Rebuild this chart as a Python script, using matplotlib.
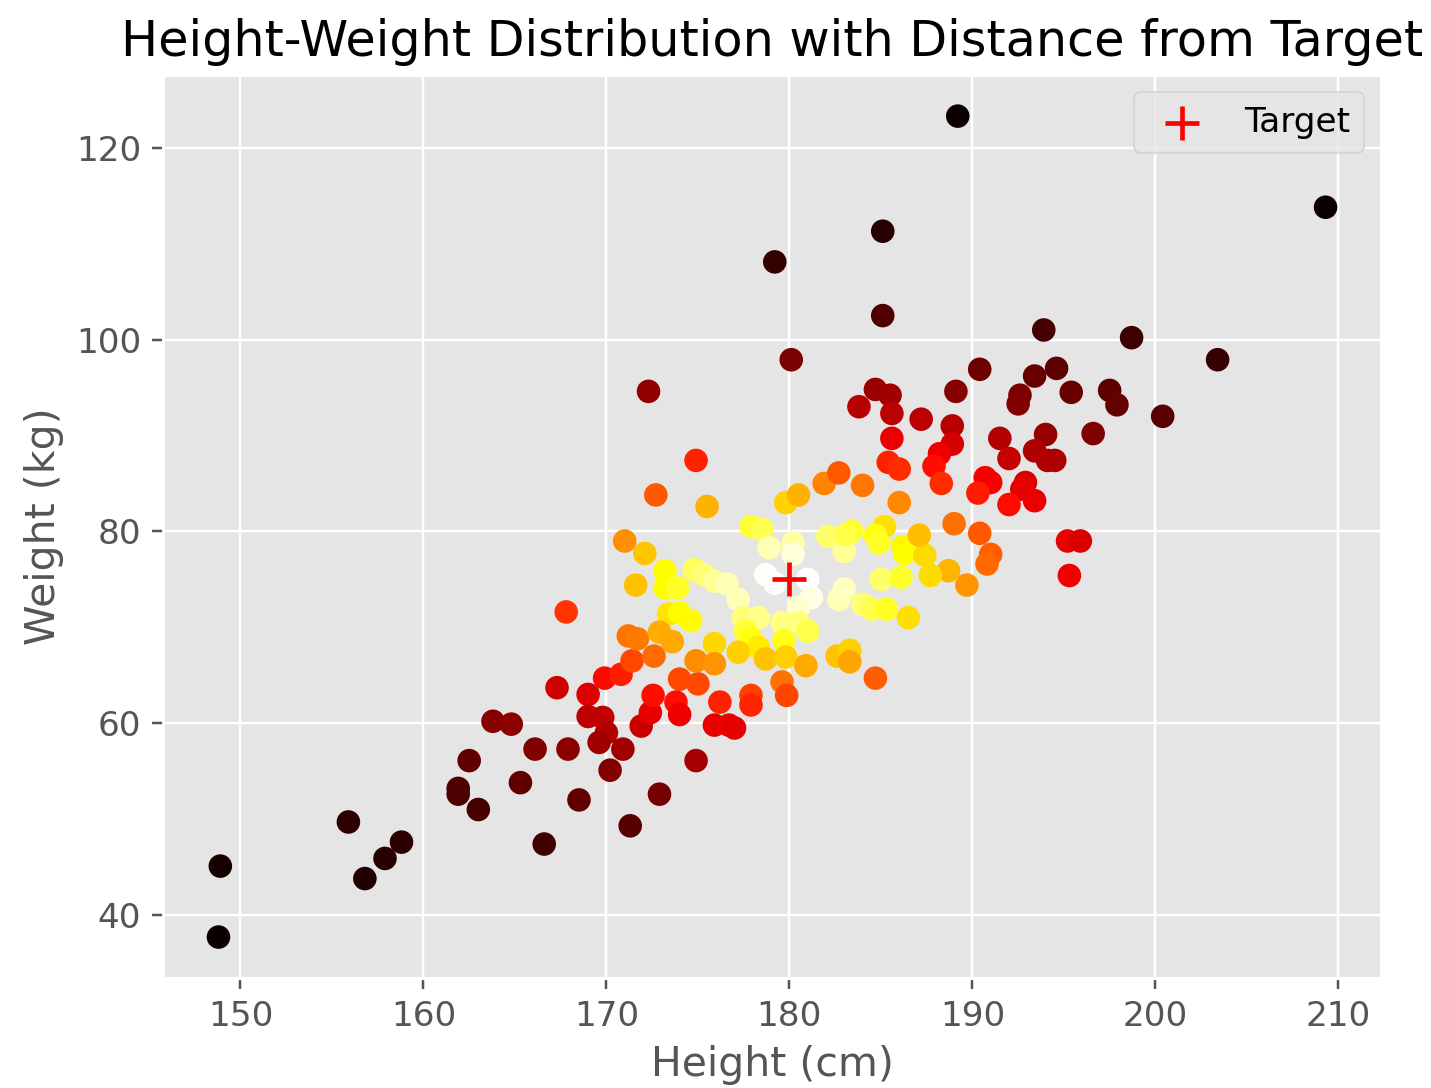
import numpy as np
import matplotlib
matplotlib.use('Agg')
import matplotlib.pyplot as plt

# target point
target_h = 180
target_w = 75

# heights (cm)
height = [148.9, 148.8, 155.9, 158.8, 157.9, 156.8, 161.9, 161.9, 162.5, 163.0,
          163.8, 164.8, 165.3, 166.1, 166.6, 167.9, 167.3, 167.8, 168.5, 169.0,
          169.0, 169.8, 170.0, 169.6, 170.2, 170.9, 171.3, 169.9, 170.8, 171.4,
          172.6, 171.9, 172.4, 172.55, 172.9, 174.9, 174.0, 173.8, 174.0, 175.0,
          175.9, 176.7, 177.0, 176.2, 177.9, 177.9, 179.6, 179.85,
          172.7, 175.5, 174.9, 172.3, 179.2, 180.1, 179.8, 180.5, 181.9, 182.7,
          184.0, 186.0, 185.2, 177.9, 178.5, 178.9, 180.2, 180.2, 182.1, 183.4,
          183.0, 184.7, 184.9, 186.2, 186.3, 171.0, 172.1, 171.6, 173.2, 173.2,
          173.9, 174.8, 175.3, 175.9, 176.6, 177.2, 178.7, 179.2, 181.0, 181.2,
          180.5, 182.7, 183.0, 184.0, 184.5, 185.3, 185.0, 186.1, 186.5, 173.4,
          174.0, 174.6, 177.5, 178.3, 179.6, 180.5, 181.0, 177.6, 177.9, 178.3,
          179.7, 177.2, 178.7, 179.8, 175.9, 171.2, 171.7, 172.9, 173.6, 174.9,
          175.9, 180.9, 182.6, 183.3, 183.3, 184.7, 183.1,
          195.2, 195.9, 195.3, 191.0, 190.8, 190.4, 189.7, 189.0, 188.7, 187.7,
          187.4, 187.1,
          189.2, 209.3, 185.1, 185.1, 193.9, 198.7, 203.4, 190.4, 193.4, 194.6,
          192.6, 192.5, 195.4, 197.5, 197.9, 200.4, 184.7, 185.5, 183.8, 185.6,
          189.1, 187.2, 188.9, 188.9, 185.6, 188.2, 187.9, 185.4, 186.0, 188.3,
          191.5, 192.0, 194.0, 196.6, 193.4, 194.1, 194.5, 190.7, 191.0, 190.3,
          192.9, 192.7, 193.4, 192.0]

# weights (kg)
weight = [45.1, 37.7, 49.7, 47.6, 45.9, 43.8, 53.2, 52.6, 56.1, 51.0,
          60.2, 59.9, 53.8, 57.3, 47.4, 57.3, 63.7, 71.6, 52.0, 63.0,
          60.7, 60.6, 59.0, 58.0, 55.1, 57.3, 49.3, 64.7, 65.1, 66.5,
          67.0, 59.7, 61.1, 62.9, 52.6, 56.1, 64.6, 62.2, 60.9, 64.1,
          59.8, 59.8, 59.5, 62.2, 62.9, 61.9, 64.3, 62.9,
          83.8, 82.6, 87.4, 94.6, 108.1, 97.9, 83.0, 83.8, 85.0, 86.1,
          84.8, 83.0, 80.5, 80.5, 80.2, 78.3, 78.8, 77.6, 79.5, 80.0,
          77.9, 79.6, 78.8, 78.4, 77.7, 79.0, 77.7, 74.4, 75.9, 74.1,
          74.1, 76.0, 75.5, 74.8, 74.5, 72.9, 75.5, 74.6, 75.0, 73.1,
          72.1, 72.9, 74.0, 72.4, 71.9, 71.9, 75.0, 75.2, 71.0, 71.4,
          71.5, 70.7, 71.0, 71.0, 70.5, 70.5, 69.6, 69.6, 68.8, 67.9,
          68.6, 67.4, 66.7, 66.9, 68.3, 69.1, 68.8, 69.5, 68.5, 66.5,
          66.2, 66.0, 67.0, 67.6, 66.4, 64.7, 79.7,
          79.0, 79.0, 75.4, 77.6, 76.6, 79.8, 74.4, 80.8, 75.9, 75.4,
          77.5, 79.6,
          123.3, 113.8, 111.3, 102.5, 101.0, 100.2, 97.9, 96.9, 96.2, 97.0,
          94.2, 93.3, 94.5, 94.7, 93.2, 92.0, 94.8, 94.2, 93.0, 92.3,
          94.6, 91.7, 91.0, 89.1, 89.7, 88.1, 86.8, 87.2, 86.5, 85.0,
          89.7, 87.6, 90.1, 90.2, 88.4, 87.4, 87.4, 85.6, 85.1, 84.0,
          85.1, 84.4, 83.2, 82.8]

h = np.array(height)
w = np.array(weight)
dist = np.sqrt((h - target_h)**2 + (w - target_w)**2)
# closer -> whiter, far -> black
closeness = 1 / (1 + (dist / 12.0)**2)

plt.style.use('ggplot')
plt.rcParams['font.size'] = 11
fig = plt.figure(figsize=(1431/224, 1088/224), dpi=224)
ax = fig.add_axes([0.114, 0.101, 0.851, 0.830])

ax.scatter(h, w, c=closeness, cmap='hot', s=50)
ax.scatter([target_h], [target_w], color='red', marker='+', s=120, label='Target')

ax.set_title('Height-Weight Distribution with Distance from Target')
ax.set_xlabel('Height (cm)')
ax.set_ylabel('Weight (kg)')
ax.legend(loc='upper right')

fig.savefig('out.png', dpi=224)
